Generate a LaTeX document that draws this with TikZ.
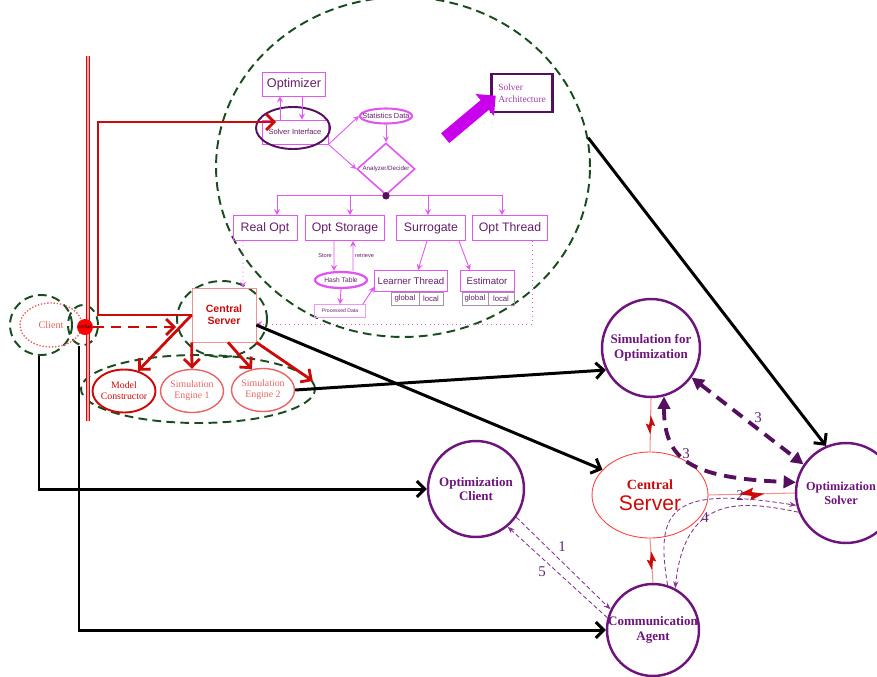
\documentclass[tikz,border=0pt]{standalone}
\usepackage{fontspec}
\setmainfont{Liberation Serif}
\setsansfont{Liberation Sans}
\usetikzlibrary{shapes.geometric, shapes.arrows, arrows, arrows.meta}

\definecolor{srvred}{RGB}{205,10,10}
\definecolor{lightred}{RGB}{232,100,100}
\definecolor{agentpurple}{RGB}{110,20,125}
\definecolor{darkpurple}{RGB}{85,15,95}
\definecolor{optmag}{RGB}{225,85,240}
\definecolor{opttext}{RGB}{100,30,105}
\definecolor{archmag}{RGB}{200,0,235}
\definecolor{archtext}{RGB}{160,60,170}
\definecolor{zonegreen}{RGB}{25,75,30}
\definecolor{cellgray}{RGB}{165,145,170}
\definecolor{numpurple}{RGB}{95,40,115}

\tikzstyle{zone} = [ellipse, draw=zonegreen, line width=1.1pt, dash pattern=on 5pt off 3pt, inner sep=0pt]
\tikzstyle{agent} = [circle, draw=agentpurple, line width=1.4pt, text=agentpurple, font=\bfseries\fontsize{7.4}{8.2}\selectfont, align=center, inner sep=-6pt]
\tikzstyle{agentlabel} = [text=agentpurple, font=\bfseries\fontsize{7}{8}\selectfont, align=center, inner sep=0pt]
\tikzstyle{engine} = [ellipse, draw=lightred, line width=0.8pt, text=lightred, font=\fontsize{5.6}{6.4}\selectfont, align=center, inner sep=-2pt, minimum width=1.26cm, minimum height=0.86cm]
\tikzstyle{optbox} = [rectangle, draw=optmag, line width=0.5pt, text=opttext, font=\sffamily\fontsize{7}{8}\selectfont, inner sep=0pt, minimum height=0.5cm]
\tikzstyle{cell} = [rectangle, draw=cellgray, line width=0.4pt, text=opttext, font=\sffamily\fontsize{4.4}{5}\selectfont, inner sep=0pt, minimum height=0.26cm]
\tikzstyle{lbl} = [text=opttext, font=\sffamily\fontsize{3.2}{4}\selectfont, inner sep=1pt]
\tikzstyle{num} = [text=numpurple, font=\fontsize{8.5}{9}\selectfont]
\tikzstyle{link} = [line width=1.7pt, -{Straight Barb[length=4.5pt,width=9pt]}]
\tikzstyle{redlink} = [draw=srvred, line width=1.6pt, -{Straight Barb[length=4.5pt,width=9pt]}]
\tikzstyle{reddash} = [redlink, dash pattern=on 6pt off 4pt]
\tikzstyle{optarrow} = [draw=optmag, line width=0.5pt, ->, >=stealth]
\tikzstyle{optdot} = [optarrow, dotted]
\tikzstyle{bigdash} = [draw=darkpurple, line width=2.2pt, dash pattern=on 7pt off 4.5pt, {Triangle[length=7pt,width=7pt]}-{Triangle[length=7pt,width=7pt]}]
\tikzstyle{thindash} = [draw=agentpurple!85, line width=0.5pt, dash pattern=on 2.5pt off 1.5pt, -{Stealth[length=4pt,width=3pt]}]
\tikzstyle{zap} = [draw=lightred!70, line width=0.6pt]
\tikzset{bolt/.pic={\fill[srvred] (-8,0) -- (1,-4) -- (0,-1.2) -- (8,0) -- (-1,4) -- (0,1.2) -- cycle;}}

\begin{document}
\begin{tikzpicture}[x=0.02cm, y=-0.02cm]
\useasboundingbox (0,0) rectangle (877,677);

\node(solvzone)[zone, minimum width=7.48cm, minimum height=6.8cm] at (403,167) {};
\node(clientzone)[zone, minimum width=1.24cm, minimum height=1.2cm] at (41,325) {};
\node(sockzone)[zone, minimum width=0.6cm, minimum height=0.8cm] at (83,325) {};
\node(cszone)[zone, minimum width=1.8cm, minimum height=1.52cm] at (222,319) {};
\node(engzone)[zone, minimum width=4.68cm, minimum height=1.36cm] at (198,389) {};

\draw[draw=srvred, double=red!35, double distance=0.9pt, line width=0.6pt] (88,56) -- (88,421);

\node(client)[ellipse, draw=lightred, densely dotted, thick, text=lightred, font=\fontsize{5.8}{6}\selectfont, minimum width=1.24cm, minimum height=0.88cm, inner sep=0pt] at (51,325) {Client};
\node(sock)[circle, fill=red, minimum size=0.32cm, inner sep=0pt, font=\fontsize{3}{3}\selectfont] at (85,327) {socket};
\node(cs)[rectangle, draw=lightred!70, text=srvred, font=\sffamily\bfseries\fontsize{6}{7}\selectfont, align=center, minimum width=1.28cm, minimum height=1.08cm] at (224,315) {Central\\Server};
\node(model)[engine, draw=srvred, line width=1.1pt, text=srvred] at (124,391) {Model\\Constructor};
\node(eng1)[engine] at (192,391) {Simulation\\Engine 1};
\node(eng2)[engine] at (263,390) {Simulation\\Engine 2};

\node(opt)[optbox, minimum width=1.26cm, minimum height=0.48cm, font=\sffamily\fontsize{7.2}{8}\selectfont] at (294,84) {Optimizer};
\node(sif)[optbox, minimum width=1.32cm, minimum height=0.48cm, font=\sffamily\fontsize{4.3}{5}\selectfont] at (295,132) {Solver Interface};
\node(sifring)[ellipse, draw=darkpurple, line width=1.1pt, minimum width=1.48cm, minimum height=0.84cm] at (293,128) {};
\node(stats)[ellipse, draw=optmag, line width=1.2pt, text=opttext, font=\sffamily\fontsize{4.2}{5}\selectfont, minimum width=1.04cm, minimum height=0.3cm, inner xsep=-3pt, inner ysep=0pt] at (386,116) {Statistics Data};
\node(dec)[diamond, aspect=1.1, draw=optmag, line width=0.9pt, text=opttext, font=\sffamily\fontsize{3.5}{4}\selectfont, minimum width=1.16cm, minimum height=1.04cm, inner sep=0pt] at (386,169) {Analyzer/Decider};
\node(fork)[circle, fill=darkpurple, minimum size=0.15cm, inner sep=0pt] at (dec.south) {};

\node(real)[optbox, minimum width=1.28cm] at (265,228) {Real Opt};
\node(store)[optbox, minimum width=1.58cm] at (345,228) {Opt Storage};
\node(surr)[optbox, minimum width=1.38cm] at (431,228) {Surrogate};
\node(thrd)[optbox, minimum width=1.5cm] at (510,228) {Opt Thread};

\node(hash)[ellipse, draw=optmag, line width=1.3pt, text=opttext, font=\sffamily\fontsize{3.8}{4}\selectfont, minimum width=1.04cm, minimum height=0.32cm, inner sep=0.5pt] at (341,280) {Hash Table};
\node(pdata)[rectangle, draw=optmag!60, text=opttext, font=\sffamily\fontsize{2.9}{3}\selectfont, minimum width=1.02cm, minimum height=0.26cm, inner sep=0pt] at (340,311) {Processed Data};
\node(lthr)[optbox, minimum width=1.46cm, minimum height=0.42cm, font=\sffamily\fontsize{5.5}{6}\selectfont] at (411,281) {Learner Thread};
\node(lglob)[cell, minimum width=0.56cm] at (405,298.5) {global};
\node(lloc)[cell, minimum width=0.48cm] at (431,298.5) {local};
\node(est)[optbox, minimum width=1.08cm, minimum height=0.42cm, font=\sffamily\fontsize{5.5}{6}\selectfont] at (487,281) {Estimator};
\node(eglob)[cell, minimum width=0.52cm] at (475,298.5) {global};
\node(eloc)[cell, minimum width=0.52cm] at (501,298.5) {local};

\node(arch)[rectangle, draw=darkpurple, line width=1.4pt, text=archtext, font=\fontsize{5.4}{6.6}\selectfont, align=left, minimum width=1.22cm, minimum height=0.76cm] at (522,93) {Solver\\Architecture};
\node(push)[single arrow, fill=archmag, draw=none, rotate=40, minimum height=1.32cm, inner sep=0.12cm, single arrow head extend=0.16cm] at (468,119) {};

\draw[optarrow] ([xshift=-0.3cm]sif.north) -- ([xshift=-0.28cm]opt.south);
\draw[optarrow] ([xshift=0.16cm]opt.south) -- ([xshift=0.14cm]sif.north);
\draw[optarrow] (sif.south east) -- (stats.west);
\draw[optarrow] (sif.south east) -- (dec.west);
\draw[optarrow] (stats.south) -- (dec.north);
\draw[optarrow] (fork) -| ([xshift=0.24cm]real.north);
\draw[optarrow] (fork) -| ([xshift=0.1cm]store.north);
\draw[optarrow] (fork) -| ([xshift=-0.06cm]surr.north);
\draw[optarrow] (fork) -| ([xshift=-0.16cm]thrd.north);
\draw[optarrow] ([xshift=-0.22cm]store.south) -- node[left, lbl]{Store} ([xshift=-0.14cm]hash.north);
\draw[optarrow] ([xshift=0.24cm]hash.north) -- node[right, lbl]{retrieve} ([xshift=0.16cm]store.south);
\draw[optarrow] (hash.south) -- (pdata.north);
\draw[optarrow] ([xshift=-0.06cm]pdata.north east) -- ([yshift=0.1cm]lthr.south west);
\draw[optarrow] ([xshift=-0.08cm]surr.south) -- ([xshift=0.14cm]lthr.north);
\draw[optarrow] ([xshift=0.56cm]surr.south) -- ([xshift=-0.34cm]est.north);
\draw[optdot] ([xshift=-0.44cm]real.south) -- ([xshift=0.38cm]cs.north);
\draw[optdot] ([xshift=0.44cm]thrd.south) |- ([yshift=-0.18cm]cs.east);

\coordinate(feed) at (98,122);
\draw[redlink] (cs.west) -| (feed) -- ([shift={(21,-6)}]sifring.west);
\draw[reddash] (sock.east) -- (cszone.west |- sock.east);
\draw[redlink] (cs.west) -- (model.55);
\draw[redlink] (cs.south west) -- (eng1.north);
\draw[redlink] ([xshift=0.08cm]cs.south) -- (eng2.118);
\draw[redlink] (cs.south east) -- (engzone.4);

\node(simopt)[agent, minimum size=1.96cm] at (651,348) {Simulation for\\Optimization};
\node(solver)[agent, minimum size=2cm, label={[agentlabel, xshift=-0.1cm]center:Optimization\\Solver}] at (846,493) {};
\node(rcs)[ellipse, draw=red!75, line width=0.5pt, text=srvred, align=center, inner sep=0pt, minimum width=2.32cm, minimum height=1.72cm] at (650,495) {{\bfseries\fontsize{8}{9}\selectfont Central}\\{\sffamily\fontsize{12}{13}\selectfont Server}};
\node(comm)[agent, minimum size=1.84cm] at (653,630) {Communication\\Agent};
\node(oclient)[agent, minimum size=1.92cm] at (476,489) {Optimization\\Client};

\draw[link] ([xshift=-0.04cm]clientzone.south) |- (oclient);
\draw[link] ([xshift=-0.08cm]sockzone.south) |- (comm);
\draw[link] (eng2.east) -- (simopt.206);
\draw[link] ([yshift=-0.2cm]cs.east) -- (rcs.152);
\draw[link] (solvzone.9) -- (solver.113);

\draw[zap] (simopt.south) -- (rcs.north) pic[pos=0.5, sloped, scale=1.2]{bolt};
\draw[zap] (rcs.south) -- (comm.north) pic[pos=0.5, sloped, scale=1.2]{bolt};
\draw[zap] (rcs.east) -- (solver.west) pic[pos=0.5, sloped, scale=1.6]{bolt};

\draw[bigdash] (simopt.-75) .. controls (664,460) and (690,478) .. (solver.168);
\draw[bigdash] (simopt.-36) -- (solver.146);
\draw[thindash] (comm.72) .. controls (655,510) and (670,485) .. (solver.194);
\draw[thindash] (solver.202) .. controls (740,500) and (685,495) .. (comm.62);
\draw[thindash] (oclient.-35) -- (comm.154);
\draw[thindash] (comm.165) -- (oclient.-50);

\node(n1)[num] at (562,547) {1};
\node(n5)[num] at (542,572) {5};
\node(n2)[num] at (740,496) {2};
\node(n4)[num] at (705,518) {4};
\node(n3a)[num] at (686,454) {3};
\node(n3b)[num] at (758,418) {3};

\end{tikzpicture}
\end{document}
